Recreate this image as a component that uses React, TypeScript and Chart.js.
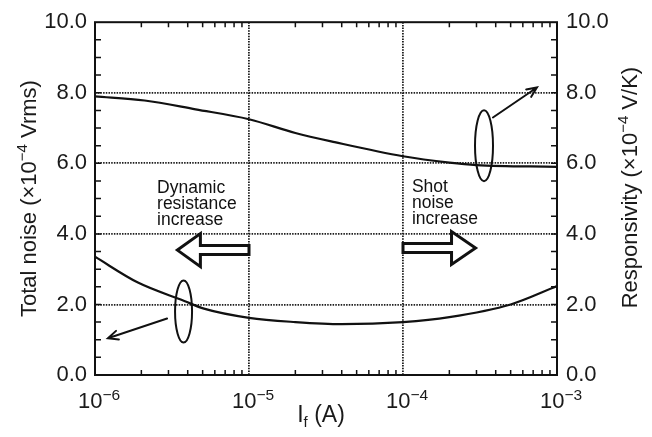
import React, { useEffect, useRef } from "react";
import { Chart, registerables } from "chart.js";

Chart.register(...registerables);

// ---- data ----
const currentNoise = [1e-6, 1.9e-6, 3.8e-6, 5.1e-6, 1e-5, 2e-5, 4e-5, 1e-4, 2e-4, 5e-4, 1e-3];
const totalNoise = [3.35, 2.62, 2.1, 1.88, 1.62, 1.5, 1.44, 1.5, 1.64, 2.0, 2.52];
const currentResp = [1e-6, 2.1e-6, 4.5e-6, 1e-5, 2e-5, 3.6e-5, 1e-4, 2e-4, 3e-4, 1e-3];
const responsivity = [7.9, 7.78, 7.53, 7.25, 6.86, 6.6, 6.2, 6.02, 5.95, 5.9];
const xDecades = [1e-6, 1e-5, 1e-4, 1e-3];
const yTickValues = [0, 2, 4, 6, 8, 10];
const leftNote = ["Dynamic", "resistance", "increase"];
const rightNote = ["Shot", "noise", "increase"];

const FONT = "'Liberation Sans', Arial, Helvetica, sans-serif";
const INK = "#111";

type Part = { t: string; s: number; dy: number };

function drawRich(ctx: CanvasRenderingContext2D, parts: Part[], cx: number, cy: number, rot: number) {
  ctx.save();
  ctx.translate(cx, cy);
  ctx.rotate(rot);
  ctx.textBaseline = "alphabetic";
  ctx.textAlign = "left";
  let total = 0;
  const widths = parts.map((p) => {
    ctx.font = `${p.s}px ${FONT}`;
    const w = ctx.measureText(p.t).width;
    total += w;
    return w;
  });
  let x = -total / 2;
  parts.forEach((p, i) => {
    ctx.font = `${p.s}px ${FONT}`;
    ctx.fillText(p.t, x, p.dy);
    x += widths[i];
  });
  ctx.restore();
}

function blockArrow(ctx: CanvasRenderingContext2D, xTail: number, xTip: number, y: number, headLen: number, headHalf: number, shaftHalf: number) {
  const dir = Math.sign(xTip - xTail);
  const xb = xTip - dir * headLen;
  ctx.beginPath();
  ctx.moveTo(xTail, y - shaftHalf);
  ctx.lineTo(xb, y - shaftHalf);
  ctx.lineTo(xb, y - headHalf);
  ctx.lineTo(xTip, y);
  ctx.lineTo(xb, y + headHalf);
  ctx.lineTo(xb, y + shaftHalf);
  ctx.lineTo(xTail, y + shaftHalf);
  ctx.closePath();
  ctx.fillStyle = "#fff";
  ctx.fill();
  ctx.lineWidth = 3;
  ctx.lineJoin = "miter";
  ctx.miterLimit = 10;
  ctx.strokeStyle = INK;
  ctx.stroke();
}

function thinArrow(ctx: CanvasRenderingContext2D, x1: number, y1: number, x2: number, y2: number) {
  const ang = Math.atan2(y2 - y1, x2 - x1);
  const L = 11;
  const spread = 0.42;
  ctx.lineWidth = 2;
  ctx.strokeStyle = INK;
  ctx.lineCap = "round";
  ctx.beginPath();
  ctx.moveTo(x1, y1);
  ctx.lineTo(x2, y2);
  ctx.moveTo(x2 - L * Math.cos(ang - spread), y2 - L * Math.sin(ang - spread));
  ctx.lineTo(x2, y2);
  ctx.lineTo(x2 - L * Math.cos(ang + spread), y2 - L * Math.sin(ang + spread));
  ctx.stroke();
}

const decorPlugin = {
  id: "decor",
  afterDatasetsDraw(chart: any) {
    const { ctx, chartArea: a, scales } = chart;
    const xs = scales.x;
    const yl = scales.yL;
    const P = (lx: number, v: number): [number, number] => [xs.getPixelForValue(Math.pow(10, lx)), yl.getPixelForValue(v)];
    ctx.save();

    // frame
    ctx.strokeStyle = INK;
    ctx.lineWidth = 2;
    ctx.strokeRect(a.left, a.top, a.right - a.left, a.bottom - a.top);

    // inward minor ticks
    ctx.lineWidth = 1.5;
    ctx.beginPath();
    for (let v = 0.5; v < 10; v += 0.5) {
      const y = yl.getPixelForValue(v);
      ctx.moveTo(a.left, y);
      ctx.lineTo(a.left + 6, y);
      ctx.moveTo(a.right, y);
      ctx.lineTo(a.right - 6, y);
    }
    for (const d of xDecades.slice(0, 3)) {
      for (let k = 2; k <= 9; k++) {
        const x = xs.getPixelForValue(k * d);
        ctx.moveTo(x, a.top);
        ctx.lineTo(x, a.top + 5);
        ctx.moveTo(x, a.bottom);
        ctx.lineTo(x, a.bottom - 5);
      }
    }
    ctx.stroke();

    // x tick labels 10^n
    ctx.fillStyle = "#1a1a1a";
    for (const d of xDecades) {
      const x = xs.getPixelForValue(d);
      const e = Math.round(Math.log10(d));
      drawRich(ctx, [
        { t: "10", s: 22, dy: 0 },
        { t: "\u2212" + Math.abs(e), s: 15.5, dy: -8 },
      ], x + 4, a.bottom + 33, 0);
    }

    // axis titles
    const cy = (a.top + a.bottom) / 2;
    drawRich(ctx, [
      { t: "Total noise (\u00d710", s: 22, dy: 0 },
      { t: "\u22124", s: 15, dy: -9 },
      { t: " Vrms)", s: 22, dy: 0 },
    ], 36, cy, -Math.PI / 2);
    drawRich(ctx, [
      { t: "Responsivity (\u00d710", s: 22, dy: 0 },
      { t: "\u22124", s: 15, dy: -9 },
      { t: " V/K)", s: 22, dy: 0 },
    ], 637, cy - 11, -Math.PI / 2);
    drawRich(ctx, [
      { t: "I", s: 23, dy: 0 },
      { t: "f", s: 15, dy: 5 },
      { t: " (A)", s: 23, dy: 0 },
    ], (a.left + a.right) / 2 - 5, a.bottom + 47, 0);

    // annotation texts
    ctx.font = `17.5px ${FONT}`;
    ctx.textAlign = "left";
    ctx.textBaseline = "alphabetic";
    ctx.fillStyle = INK;
    const [lx, ly] = P(-5.597, 5.17);
    leftNote.forEach((s, i) => ctx.fillText(s, lx, ly + i * 16.3));
    const [rx, ry] = P(-3.942, 5.2);
    rightNote.forEach((s, i) => ctx.fillText(s, rx, ry + i * 16.3));

    // block arrows
    const [lTail, lY] = P(-5.0, 3.54);
    const [lTip] = P(-5.465, 3.54);
    blockArrow(ctx, lTail, lTip, lY, 23, 16.5, 4.5);
    const [rTail, rY] = P(-4.0, 3.6);
    const [rTip] = P(-3.529, 3.6);
    blockArrow(ctx, rTail, rTip, rY, 24, 16.5, 4.5);

    // ellipses
    ctx.lineWidth = 2;
    ctx.strokeStyle = INK;
    const [e1x, e1y] = P(-5.425, 1.8);
    ctx.beginPath();
    ctx.ellipse(e1x, e1y, 8.5, 31, 0, 0, Math.PI * 2);
    ctx.stroke();
    const [e2x, e2y] = P(-3.474, 6.5);
    ctx.beginPath();
    ctx.ellipse(e2x, e2y, 9, 35.5, 0, 0, Math.PI * 2);
    ctx.stroke();

    // thin arrows
    const [a1x, a1y] = P(-5.532, 1.6);
    const [t1x, t1y] = P(-5.916, 1.04);
    thinArrow(ctx, a1x, a1y, t1x, t1y);
    const [a2x, a2y] = P(-3.416, 7.3);
    const [t2x, t2y] = P(-3.13, 8.15);
    thinArrow(ctx, a2x, a2y, t2x, t2y);

    ctx.restore();
  },
};

export default function App() {
  const ref = useRef<HTMLCanvasElement>(null);

  useEffect(() => {
    if (!ref.current) return;
    const gridColor = (edgeVals: number[]) => (c: any) =>
      edgeVals.some((v) => Math.abs(c.tick.value - v) / Math.max(v, 1e-12) < 1e-6 || c.tick.value === v)
        ? "rgba(0,0,0,0)"
        : "#1e1e1e";

    const chart = new Chart(ref.current, {
      type: "line",
      data: {
        datasets: [
          {
            label: "Total noise",
            data: currentNoise.map((x, i) => ({ x, y: totalNoise[i] })),
            yAxisID: "yL",
            borderColor: INK,
            borderWidth: 2.2,
            pointRadius: 0,
            cubicInterpolationMode: "monotone",
            fill: false,
          },
          {
            label: "Responsivity",
            data: currentResp.map((x, i) => ({ x, y: responsivity[i] })),
            yAxisID: "yR",
            borderColor: INK,
            borderWidth: 2.2,
            pointRadius: 0,
            cubicInterpolationMode: "monotone",
            fill: false,
          },
        ],
      },
      options: {
        responsive: false,
        animation: false,
        layout: { padding: { top: 19, left: 0, right: 0, bottom: 0 } },
        plugins: { legend: { display: false }, tooltip: { enabled: false } },
        scales: {
          x: {
            type: "logarithmic",
            position: "bottom",
            min: 1e-6,
            max: 1e-3,
            afterBuildTicks: (s: any) => {
              s.ticks = xDecades.map((value) => ({ value }));
            },
            afterFit: (s: any) => {
              s.height = 62;
            },
            ticks: { display: false },
            grid: { color: gridColor([1e-6, 1e-3]), lineWidth: 1.8, drawTicks: false },
            border: { display: false, dash: [1.5, 1.2] },
          },
          yL: {
            type: "linear",
            position: "left",
            min: 0,
            max: 10,
            afterBuildTicks: (s: any) => {
              s.ticks = yTickValues.map((value) => ({ value }));
            },
            afterFit: (s: any) => {
              s.width = 95;
            },
            ticks: {
              padding: 8,
              color: "#1a1a1a",
              font: { family: FONT, size: 22 },
              callback: (v: any) => Number(v).toFixed(1),
            },
            grid: { color: gridColor([0, 10]), lineWidth: 1.8, drawTicks: false },
            border: { display: false, dash: [1.5, 1.2] },
          },
          yR: {
            type: "linear",
            position: "right",
            min: 0,
            max: 10,
            afterBuildTicks: (s: any) => {
              s.ticks = yTickValues.map((value) => ({ value }));
            },
            afterFit: (s: any) => {
              s.width = 95;
            },
            ticks: {
              padding: 9,
              color: "#1a1a1a",
              font: { family: FONT, size: 22 },
              callback: (v: any) => Number(v).toFixed(1),
            },
            grid: { display: false, drawTicks: false },
            border: { display: false },
          },
        },
      },
      plugins: [decorPlugin],
    } as any);

    return () => chart.destroy();
  }, []);

  return (
    <div style={{ position: "fixed", left: 0, top: 0, width: 652, height: 437, background: "#fff" }}>
      <canvas ref={ref} width={652} height={437} style={{ display: "block", width: 652, height: 437 }} />
    </div>
  );
}
